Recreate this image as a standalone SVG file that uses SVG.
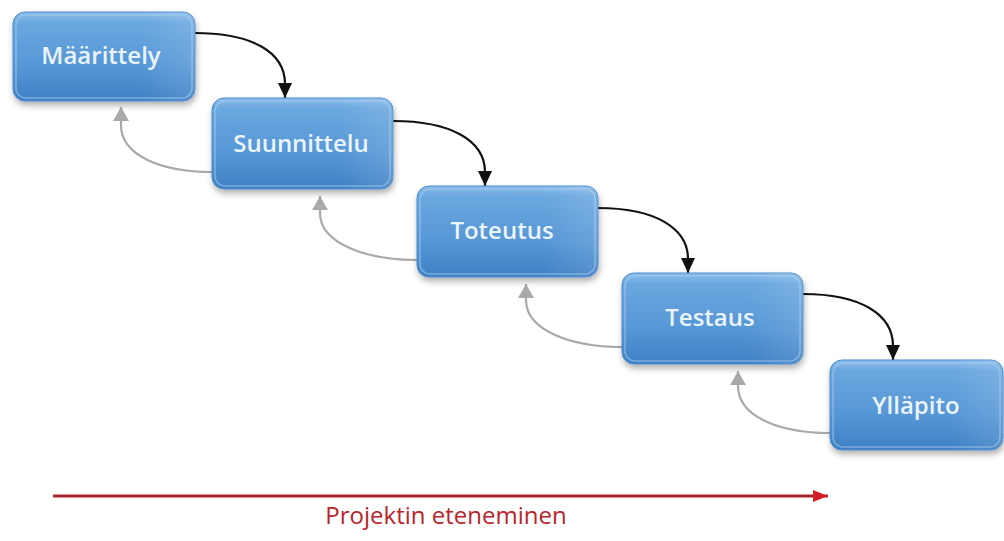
<svg xmlns="http://www.w3.org/2000/svg" width="1004" height="541" viewBox="0 0 1004 541">
  <defs>
    <linearGradient id="boxFill" x1="0" y1="0" x2="0" y2="1">
      <stop offset="0" stop-color="#8dbdea"/>
      <stop offset="0.12" stop-color="#6aa7df"/>
      <stop offset="0.6" stop-color="#5797d6"/>
      <stop offset="1" stop-color="#3e80c4"/>
    </linearGradient>
    <linearGradient id="sheen" x1="0" y1="0" x2="1" y2="0">
      <stop offset="0" stop-color="#ffffff" stop-opacity="0"/>
      <stop offset="0.7" stop-color="#ffffff" stop-opacity="0"/>
      <stop offset="1" stop-color="#ffffff" stop-opacity="0.12"/>
    </linearGradient>
    <filter id="shadow" x="-10%" y="-10%" width="125%" height="135%">
      <feDropShadow dx="1" dy="4" stdDeviation="3" flood-color="#000" flood-opacity="0.3"/>
    </filter>
    <marker id="blackHead" viewBox="0 0 15 14" refX="15" refY="7" markerWidth="15" markerHeight="14" markerUnits="userSpaceOnUse" orient="auto">
      <path d="M0,0 L15,7 L0,14 Z" fill="#111"/>
    </marker>
    <marker id="grayHead" viewBox="0 0 14 16" refX="14" refY="8" markerWidth="14" markerHeight="16" markerUnits="userSpaceOnUse" orient="auto">
      <path d="M0,0 L14,8 L0,16 Z" fill="#a9a9a9"/>
    </marker>
    <marker id="redHead" viewBox="0 0 15 12" refX="15" refY="6" markerWidth="15" markerHeight="12" markerUnits="userSpaceOnUse" orient="auto">
      <path d="M0,0 L15,6 L0,12 Z" fill="#d21f26"/>
    </marker>
  </defs>
  <style>
    .box { fill: url(#boxFill); stroke: #4a8ccd; stroke-width: 1; filter: url(#shadow); }
    .sheen { fill: url(#sheen); stroke: none; }
    .bevel { fill: none; stroke: #a9cff1; stroke-opacity: 0.55; stroke-width: 1.5; }
    .label { font-family: "Open Sans", "Liberation Sans", sans-serif; font-size: 24px; font-weight: 600; fill: #eaf4fc; text-anchor: middle; }
    .fwd { fill: none; stroke: #111; stroke-width: 2.2; marker-end: url(#blackHead); }
    .back { fill: none; stroke: #a9a9a9; stroke-width: 2.2; marker-end: url(#grayHead); }
    .progress { fill: none; stroke: #b0222a; stroke-width: 3; marker-end: url(#redHead); }
    .ptext { font-family: "Open Sans", "Liberation Sans", sans-serif; font-size: 24px; fill: #b9242b; text-anchor: middle; }
  </style>

  <g id="connectors">
    <path class="fwd" d="M195,33 C252,33 285,52 285,84 L285,98"/>
    <path class="fwd" d="M393,121 C450,121 485,140 485,172 L485,186"/>
    <path class="fwd" d="M598,208 C655,208 688,228 688,259 L688,273"/>
    <path class="fwd" d="M803,294 C860,294 893,314 893,346 L893,360"/>
    <path class="back" d="M212,172 C160,172 121,155 121,125 L121,107"/>
    <path class="back" d="M417,260 C365,260 320,243 320,213 L320,196"/>
    <path class="back" d="M622,347 C570,347 526,330 526,300 L526,284"/>
    <path class="back" d="M830,433 C778,433 738,416 738,386 L738,371"/>
    <path class="progress" d="M53,496 L828,496"/>
  </g>

  <g id="node-maarittely">
    <rect class="box" x="13" y="12" width="182" height="89" rx="12"/>
    <rect class="sheen" x="13" y="12" width="182" height="89" rx="12"/>
    <rect class="bevel" x="16" y="15" width="176" height="83" rx="10"/>
    <text class="label" x="101" y="64">Määrittely</text>
  </g>

  <g id="node-suunnittelu">
    <rect class="box" x="212" y="98" width="181" height="91" rx="12"/>
    <rect class="sheen" x="212" y="98" width="181" height="91" rx="12"/>
    <rect class="bevel" x="215" y="101" width="175" height="85" rx="10"/>
    <text class="label" x="301" y="152">Suunnittelu</text>
  </g>

  <g id="node-toteutus">
    <rect class="box" x="417" y="186" width="181" height="91" rx="12"/>
    <rect class="sheen" x="417" y="186" width="181" height="91" rx="12"/>
    <rect class="bevel" x="420" y="189" width="175" height="85" rx="10"/>
    <text class="label" x="502" y="239">Toteutus</text>
  </g>

  <g id="node-testaus">
    <rect class="box" x="622" y="273" width="181" height="91" rx="12"/>
    <rect class="sheen" x="622" y="273" width="181" height="91" rx="12"/>
    <rect class="bevel" x="625" y="276" width="175" height="85" rx="10"/>
    <text class="label" x="710" y="326">Testaus</text>
  </g>

  <g id="node-yllapito">
    <rect class="box" x="830" y="360" width="173" height="90" rx="12"/>
    <rect class="sheen" x="830" y="360" width="173" height="90" rx="12"/>
    <rect class="bevel" x="833" y="363" width="167" height="84" rx="10"/>
    <text class="label" x="916" y="414">Ylläpito</text>
  </g>

  <g id="progress-label">
    <text class="ptext" x="446" y="524">Projektin eteneminen</text>
  </g>
</svg>
